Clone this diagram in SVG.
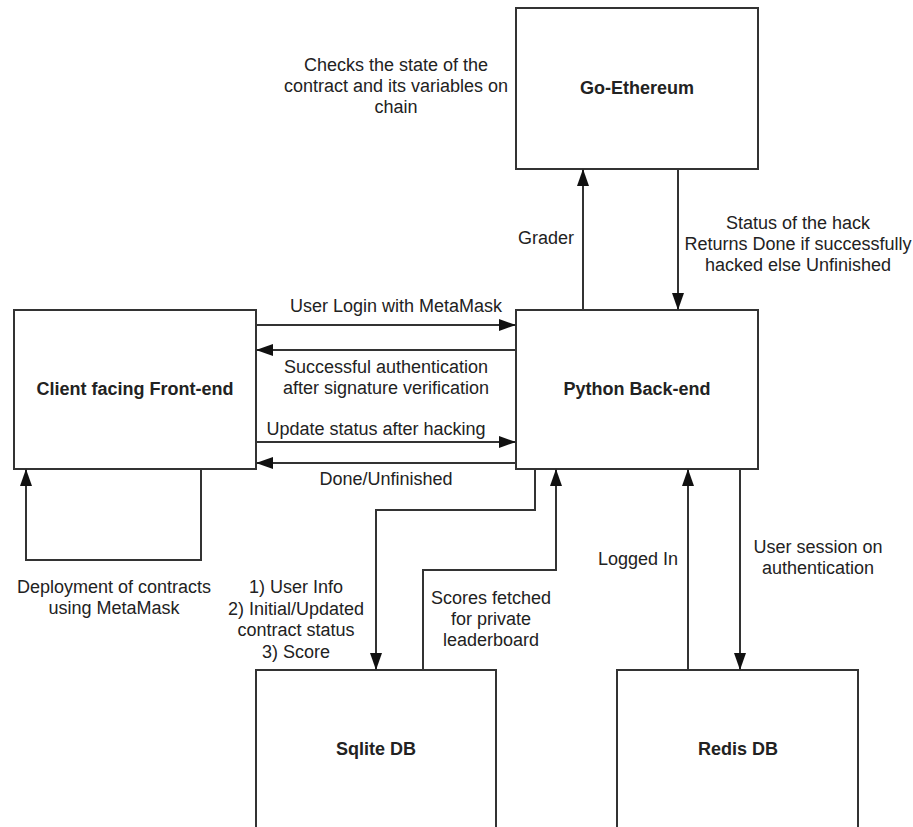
<svg xmlns="http://www.w3.org/2000/svg" width="913" height="827" viewBox="0 0 913 827">
<style>
.box{fill:#fff;stroke:#333;stroke-width:2}
.lbl{font-family:"Liberation Sans",Arial,sans-serif;font-size:18px;font-weight:bold;fill:#222;text-anchor:middle}
.t{font-family:"Liberation Sans",Arial,sans-serif;font-size:18px;fill:#222;text-anchor:middle}
.c{fill:none;stroke:#333;stroke-width:2}
</style>
<defs>
<marker id="ah" markerUnits="userSpaceOnUse" markerWidth="18" markerHeight="12" refX="17" refY="6" orient="auto">
<path d="M0,0 L17,6 L0,12 z" fill="#111"/>
</marker>
</defs>
<rect width="913" height="827" fill="#fff"/>
<g id="go-ethereum"><rect class="box" x="516" y="8" width="242" height="161"/><text class="lbl" x="637" y="94">Go-Ethereum</text></g>
<g id="python-backend"><rect class="box" x="516" y="310" width="242" height="159"/><text class="lbl" x="637" y="395">Python Back-end</text></g>
<g id="frontend"><rect class="box" x="14" y="310" width="242" height="159"/><text class="lbl" x="135" y="395">Client facing Front-end</text></g>
<g id="sqlite"><rect class="box" x="256" y="670" width="240" height="170"/><text class="lbl" x="376" y="755">Sqlite DB</text></g>
<g id="redis"><rect class="box" x="617" y="670" width="241" height="170"/><text class="lbl" x="738" y="755">Redis DB</text></g>
<g id="connectors">
<path class="c" d="M583,310 V169" marker-end="url(#ah)"/>
<path class="c" d="M678,169 V310" marker-end="url(#ah)"/>
<path class="c" d="M256,325 H516" marker-end="url(#ah)"/>
<path class="c" d="M516,350 H256" marker-end="url(#ah)"/>
<path class="c" d="M256,442 H516" marker-end="url(#ah)"/>
<path class="c" d="M516,463 H256" marker-end="url(#ah)"/>
<path class="c" d="M201,469 V560 H26 V469" marker-end="url(#ah)"/>
<path class="c" d="M535,469 V510 H376 V670" marker-end="url(#ah)"/>
<path class="c" d="M423,670 V570 H556 V469" marker-end="url(#ah)"/>
<path class="c" d="M688,670 V469" marker-end="url(#ah)"/>
<path class="c" d="M740,469 V670" marker-end="url(#ah)"/>
</g>
<g id="labels">
<text class="t" x="396" y="71">Checks the state of the</text>
<text class="t" x="396" y="92">contract and its variables on</text>
<text class="t" x="396" y="113">chain</text>
<text class="t" x="546" y="244">Grader</text>
<text class="t" x="798" y="229">Status of the hack</text>
<text class="t" x="798" y="250">Returns Done if successfully</text>
<text class="t" x="798" y="271">hacked else Unfinished</text>
<text class="t" x="396" y="312">User Login with MetaMask</text>
<text class="t" x="386" y="373">Successful authentication</text>
<text class="t" x="386" y="394">after signature verification</text>
<text class="t" x="376" y="435">Update status after hacking</text>
<text class="t" x="386" y="485">Done/Unfinished</text>
<text class="t" x="114" y="593">Deployment of contracts</text>
<text class="t" x="114" y="614">using MetaMask</text>
<text class="t" x="296" y="593">1) User Info</text>
<text class="t" x="296" y="615">2) Initial/Updated</text>
<text class="t" x="296" y="636">contract status</text>
<text class="t" x="296" y="658">3) Score</text>
<text class="t" x="491" y="604">Scores fetched</text>
<text class="t" x="491" y="625">for private</text>
<text class="t" x="491" y="646">leaderboard</text>
<text class="t" x="638" y="565">Logged In</text>
<text class="t" x="818" y="553">User session on</text>
<text class="t" x="818" y="574">authentication</text>
</g>
</svg>
